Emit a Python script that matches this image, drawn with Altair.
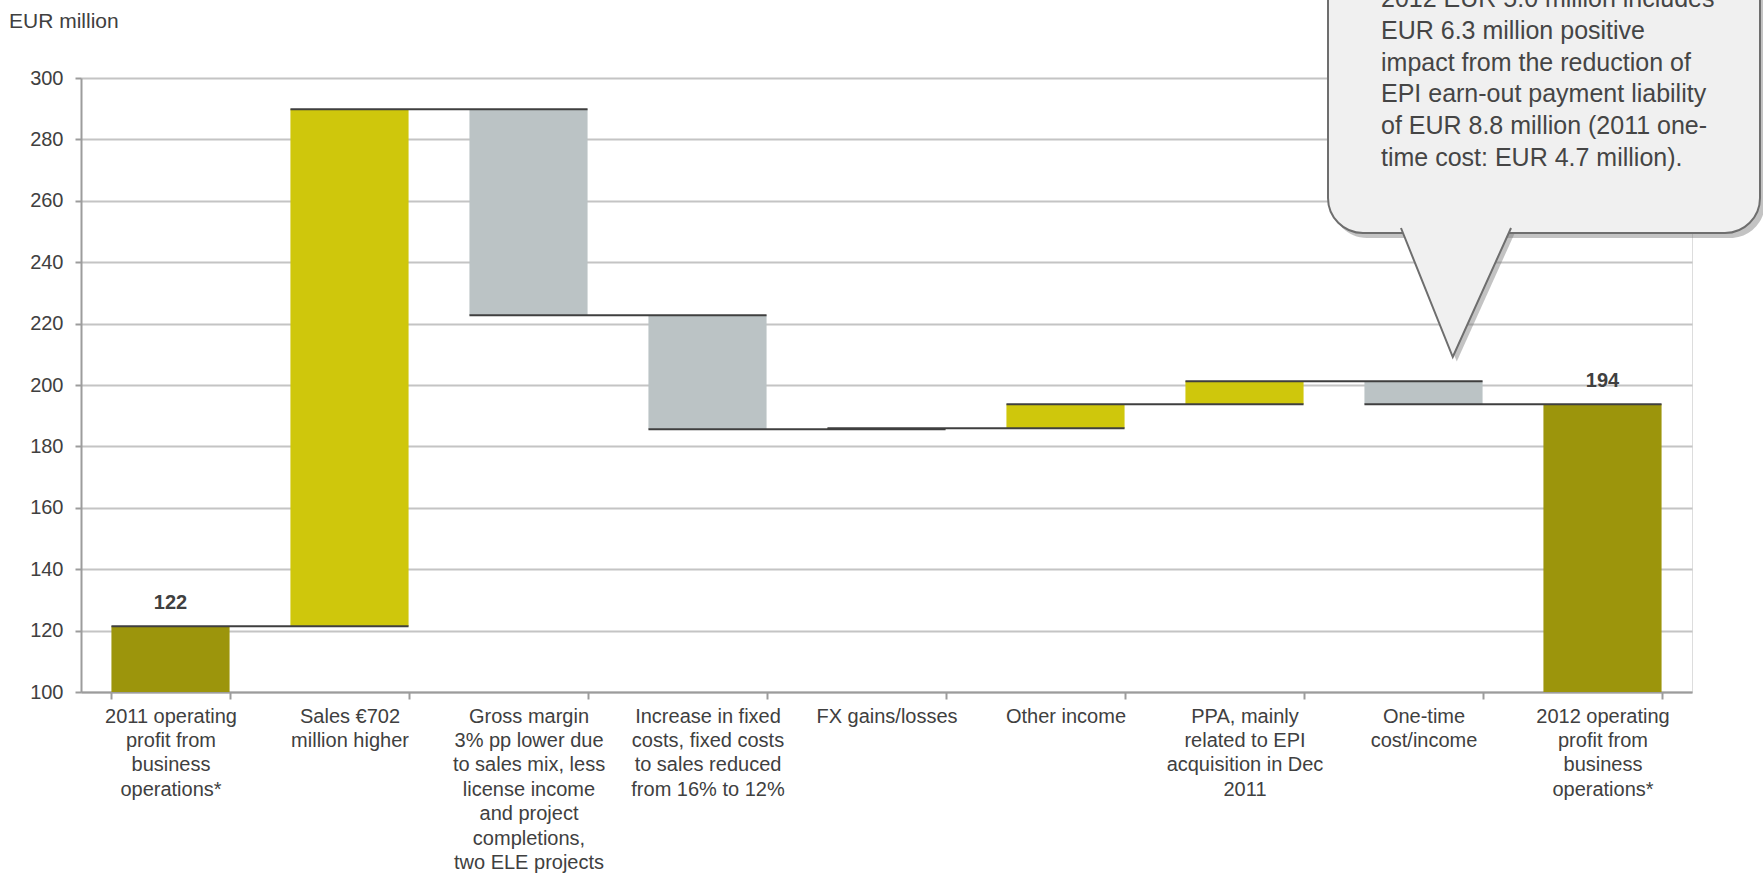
import altair as alt
import pandas as pd

# ---------------- data ----------------
categories = [
    "2011 operating|profit from|business|operations*",
    "Sales €702|million higher",
    "Gross margin|3% pp lower due|to sales mix, less|license income|and project|completions,|two ELE projects",
    "Increase in fixed|costs, fixed costs|to sales reduced|from 16% to 12%",
    "FX gains/losses",
    "Other income",
    "PPA, mainly|related to EPI|acquisition in Dec|2011",
    "One-time|cost/income",
    "2012 operating|profit from|business|operations*",
]
deltas = [121.4, 168.4, -67.1, -37.1, 0.3, 7.8, 7.5, -7.5, None]
kinds = ["total", "up", "down", "down", "up", "up", "up", "down", "total"]
value_labels = ["122", "", "", "", "", "", "", "", "194"]
y_ticks = [100, 120, 140, 160, 180, 200, 220, 240, 260, 280, 300]

callout_lines = [
    "2012 EUR 5.0 million includes",
    "EUR 6.3 million positive",
    "impact from the reduction of",
    "EPI earn-out payment liability",
    "of EUR 8.8 million (2011 one-",
    "time cost: EUR 4.7 million).",
]

# ---------------- build table ----------------
rows = []
running = 0.0
for i, (c, d, k, lab) in enumerate(zip(categories, deltas, kinds, value_labels)):
    if k == "total":
        if d is not None:
            running = d
        start, end = 0.0, running
    else:
        start, end = running, running + d
        running = end
    nxt = categories[i + 1] if i + 1 < len(categories) else None
    rows.append(dict(cat=c, start=start, end=end, kind=k, next=nxt, label=lab))
df = pd.DataFrame(rows)

FONT = "Liberation Sans"
TXT = "#404040"
AX = "#9C9C9C"

x_scale = alt.Scale(domain=categories, paddingInner=0.34, paddingOuter=0.17)
y_scale = alt.Scale(domain=[100, 300], nice=False, zero=False)

x_axis = alt.Axis(
    title=None,
    labelExpr="isValid(datum.value) ? split(datum.value, '|') : ''",
    labelAngle=0,
    tickBand="extent",
    labelFont=FONT,
    labelFontSize=20,
    labelLineHeight=24.4,
    labelColor=TXT,
    labelPadding=7,
    labelLimit=400,
    tickColor=AX,
    tickSize=7,
    tickWidth=2,
    domainColor=AX,
    domainWidth=2,
    grid=False,
)
y_axis = alt.Axis(
    title=None,
    values=y_ticks,
    grid=True,
    gridColor="#C4C4C4",
    gridWidth=2,
    tickColor=AX,
    tickSize=6,
    tickWidth=2,
    domainColor=AX,
    domainWidth=2,
    labelFont=FONT,
    labelFontSize=20,
    labelColor=TXT,
    labelPadding=12,
)

def X(field="cat:N", **kw):
    return alt.X(field, sort=categories, scale=x_scale, axis=x_axis, **kw)

def Y(field):
    return alt.Y(field, scale=y_scale, axis=y_axis)

bars = (
    alt.Chart(df)
    .mark_bar(clip=True)
    .encode(
        x=X(),
        y=Y("start:Q"),
        y2="end:Q",
        color=alt.Color(
            "kind:N",
            scale=alt.Scale(
                domain=["total", "up", "down"],
                range=["#9C950C", "#CFC70C", "#BBC3C5"],
            ),
            legend=None,
        ),
    )
)

connectors = (
    alt.Chart(df[df["next"].notna()])
    .mark_rule(color="#3F3F3F", strokeWidth=2)
    .encode(
        x=X(bandPosition=0),
        x2=alt.X2("next:N", bandPosition=1),
        y=Y("end:Q"),
    )
)

labels = (
    alt.Chart(df[df["label"] != ""])
    .mark_text(font=FONT, fontSize=20, fontWeight="bold", color=TXT,
               baseline="alphabetic", dy=-17)
    .encode(x=X(), y=Y("end:Q"), text="label:N")
)

one = pd.DataFrame({"a": [0]})

unit_title = (
    alt.Chart(one)
    .mark_text(font=FONT, fontSize=21, color=TXT, align="left", baseline="alphabetic")
    .encode(x=alt.value(-72), y=alt.value(-50), text=alt.value("EUR million"))
)

pointer_path = "M -0.853 -1 L -0.05 1 L 0.853 -1"

box_shadow = (
    alt.Chart(one)
    .mark_rect(cornerRadius=35, fill="#7A7A7A", opacity=0.45)
    .encode(x=alt.value(1251), x2=alt.value(1684), y=alt.value(-150), y2=alt.value(160))
)
ptr_shadow = (
    alt.Chart(one)
    .mark_point(shape=pointer_path, filled=True, fill="#7A7A7A", opacity=0.45,
                size=16641, strokeWidth=0)
    .encode(x=alt.value(1379), y=alt.value(219))
)
box = (
    alt.Chart(one)
    .mark_rect(cornerRadius=35, fill="#F0F0F0", stroke="#6E6E6E", strokeWidth=2)
    .encode(x=alt.value(1247), x2=alt.value(1679), y=alt.value(-150), y2=alt.value(155))
)
pointer = (
    alt.Chart(one)
    .mark_point(shape=pointer_path, filled=True, fill="#F0F0F0", stroke="#6E6E6E",
                strokeWidth=2, size=16641, opacity=1)
    .encode(x=alt.value(1375), y=alt.value(214.5))
)
callout_text = (
    alt.Chart(one)
    .mark_text(font=FONT, fontSize=25, color="#454545", align="left",
               baseline="alphabetic", lineHeight=31.8)
    .encode(x=alt.value(1300), y=alt.value(-71), text=alt.value(callout_lines))
)

chart = (
    alt.layer(bars, connectors, labels, unit_title,
              box_shadow, ptr_shadow, box, pointer, callout_text)
    .properties(
        width=1611,
        height=614,
        autosize=alt.AutoSizeParams(type="none"),
        padding={"left": 81, "top": 78, "right": 71, "bottom": 183},
    )
    .configure_view(stroke=AX, strokeWidth=2)
    .configure(background="white")
)

chart.save("out.html", embed_options={"renderer": "svg", "actions": False})
